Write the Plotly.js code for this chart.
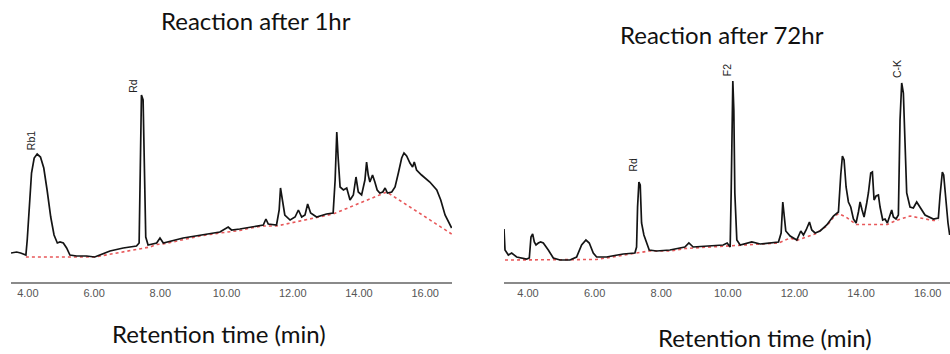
<!DOCTYPE html>
<html>
<head>
<meta charset="utf-8">
<script src="https://cdn.plot.ly/plotly-3.0.1.min.js"></script>
<style>html,body{margin:0;padding:0;background:#fff;}#chart{width:950px;height:354px;}</style>
</head>
<body>
<div id="chart"></div>
<script>
// ---- Data (retention time in min, detector signal in arbitrary units) ----
const time1h = [3.49,3.66,3.78,3.94,3.98,4.04,4.11,4.19,4.28,4.38,4.48,4.58,4.69,4.79,4.89,4.97,5.07,5.17,5.27,5.47,5.77,6.02,6.18,6.48,6.88,7.28,7.36,7.40,7.43,7.48,7.51,7.56,7.63,7.89,7.99,8.09,8.69,9.20,9.80,10.05,10.15,10.40,10.71,11.11,11.19,11.26,11.51,11.59,11.63,11.69,11.76,11.92,12.07,12.17,12.27,12.37,12.45,12.54,12.72,13.02,13.22,13.28,13.33,13.37,13.43,13.53,13.63,13.73,13.83,13.91,13.98,14.08,14.18,14.23,14.28,14.33,14.41,14.48,14.55,14.63,14.72,14.79,14.86,14.99,15.09,15.19,15.29,15.36,15.44,15.54,15.62,15.67,15.74,15.89,16.14,16.35,16.47,16.60,16.70,16.80];
const signal1h = [29,30,29,27,42,75,109,124,128,125,114,92,65,47,39,40,39,34,27,26,26,25,27,31,34,36,39,152,187,182,119,45,37,39,44,39,44,47,50,55,52,53,55,57,63,58,57,72,94,79,67,62,65,72,65,67,78,69,65,68,69,102,150,125,95,92,94,82,87,105,90,87,102,120,107,100,107,100,92,89,90,94,89,90,95,109,124,129,126,119,115,120,112,107,100,92,82,67,60,54];
const baseTime1h = [3.94,6.02,7.69,7.89,8.09,8.69,9.20,9.80,10.40,10.71,11.11,11.51,13.22,14.84,16.80];
const baseSignal1h = [25,25,35,37.5,38,42.5,46,49,51.5,54,56,56,68,90,48];

const time72h = [3.28,3.31,3.41,3.51,3.66,3.96,4.04,4.09,4.14,4.19,4.24,4.31,4.38,4.46,4.61,4.76,4.96,5.26,5.46,5.61,5.74,5.84,5.96,6.06,6.36,6.86,7.21,7.26,7.29,7.33,7.37,7.41,7.48,7.56,7.64,7.86,8.26,8.71,8.83,8.96,9.47,9.86,9.98,10.07,10.10,10.13,10.15,10.18,10.21,10.27,10.37,10.72,10.97,11.52,11.60,11.65,11.69,11.74,11.87,12.07,12.19,12.27,12.35,12.45,12.52,12.62,12.77,12.97,13.17,13.32,13.39,13.44,13.49,13.55,13.62,13.69,13.77,13.85,13.92,13.97,14.03,14.09,14.17,14.22,14.29,14.34,14.39,14.45,14.52,14.57,14.65,14.72,14.79,14.85,14.92,14.97,15.05,15.12,15.17,15.22,15.27,15.32,15.37,15.47,15.57,15.67,15.77,15.92,16.17,16.32,16.37,16.44,16.48,16.54,16.61,16.66];
const signal72h = [53,32,27,29,25,23,24,45,48,40,37,39,40,39,32,24,22,22,25,37,42,39,29,25,25,28,29,35,75,100,97,59,47,40,32,31,32,35,39,35,36,37,39,35,89,175,201,172,89,42,37,40,38,40,49,80,69,51,46,42,51,47,52,60,52,49,51,57,66,70,107,126,122,95,80,75,63,59,70,80,72,65,79,89,109,110,82,86,87,75,62,63,59,65,72,65,63,67,162,199,189,139,89,75,74,80,75,67,63,64,86,110,107,82,59,47];
const baseTime72h = [3.31,6.06,7.64,8.26,8.71,9.47,9.98,10.37,10.97,11.52,11.87,12.07,12.62,12.97,13.17,13.32,13.55,13.85,14.79,15.05,15.47,16.17,16.32];
const baseSignal72h = [22,22.5,31,31,33.5,35,36,36.5,37.5,39,44,41.5,48,56,64.5,68.5,65,57.5,57.5,61.5,66,61.5,62];

const peakNames1h = ["Rb1","Rd"];
const peakTimes1h = [4.10,7.17];
const peakHeights1h = [141,196];
const peakNames72h = ["Rd","F2","C-K"];
const peakTimes72h = [7.14,9.98,15.08];
const peakHeights72h = [117,212,213];

const tickValues = [4,6,8,10,12,14,16];
const panelTitles = ["Reaction after 1hr","Reaction after 72hr"];
const axisLabel = "Retention time (min)";

// ---- Plot ----
const W = 950, H = 354;
const lineStyle = {color:'#141414', width:1.7};
const baseStyle = {color:'#e8585a', width:1.6, dash:'dot'};

const traces = [
  {x:baseTime1h, y:baseSignal1h, type:'scatter', mode:'lines', line:baseStyle, xaxis:'x', yaxis:'y', hoverinfo:'skip'},
  {x:time1h, y:signal1h, type:'scatter', mode:'lines', line:lineStyle, xaxis:'x', yaxis:'y', hoverinfo:'skip'},
  {x:baseTime72h, y:baseSignal72h, type:'scatter', mode:'lines', line:baseStyle, xaxis:'x2', yaxis:'y2', hoverinfo:'skip'},
  {x:time72h, y:signal72h, type:'scatter', mode:'lines', line:lineStyle, xaxis:'x2', yaxis:'y2', hoverinfo:'skip'}
];

const xCommon = {
  showgrid:false, zeroline:false, showline:true, linecolor:'#8a8a8a', linewidth:2,
  ticks:'', tickvals:tickValues, tickformat:'.2f',
  tickfont:{family:'Arial, Liberation Sans, sans-serif', size:11, color:'#555'}
};
const yCommon = {showgrid:false, zeroline:false, showline:false, showticklabels:false, range:[0,282]};
const yDom = [(H-282)/H, 1];

const labelFont = {family:'Arial, Liberation Sans, sans-serif', size:10.5, color:'#222'};
const annotations = [];
peakNames1h.forEach((n,i)=>annotations.push({x:peakTimes1h[i], y:peakHeights1h[i], xref:'x', yref:'y', text:n, showarrow:false, textangle:-90, font:labelFont}));
peakNames72h.forEach((n,i)=>annotations.push({x:peakTimes72h[i], y:peakHeights72h[i], xref:'x2', yref:'y2', text:n, showarrow:false, textangle:-90, font:labelFont}));

const bigFont = {family:'Lato, Open Sans, sans-serif', size:24, color:'#111'};
function paperText(txt, px, py){
  return {x:px/W, y:1-py/H, xref:'paper', yref:'paper', xanchor:'center', yanchor:'middle', text:txt, showarrow:false, font:bigFont};
}
annotations.push(paperText(panelTitles[0], 256, 20));
annotations.push(paperText(panelTitles[1], 722, 34));
annotations.push(paperText(axisLabel, 219, 333));
annotations.push(paperText(axisLabel, 765, 337));

const layout = {
  width:W, height:H, margin:{l:0,r:0,t:0,b:0},
  paper_bgcolor:'#fff', plot_bgcolor:'#fff', showlegend:false,
  xaxis: Object.assign({}, xCommon, {domain:[11/W, 452/W], range:[3.49,16.81], anchor:'y'}),
  yaxis: Object.assign({}, yCommon, {domain:yDom, anchor:'x'}),
  xaxis2: Object.assign({}, xCommon, {domain:[504/W, 1], range:[3.28,16.67], anchor:'y2'}),
  yaxis2: Object.assign({}, yCommon, {domain:yDom, anchor:'x2'}),
  annotations: annotations
};

Plotly.newPlot('chart', traces, layout, {staticPlot:true, displayModeBar:false});
</script>
</body>
</html>
